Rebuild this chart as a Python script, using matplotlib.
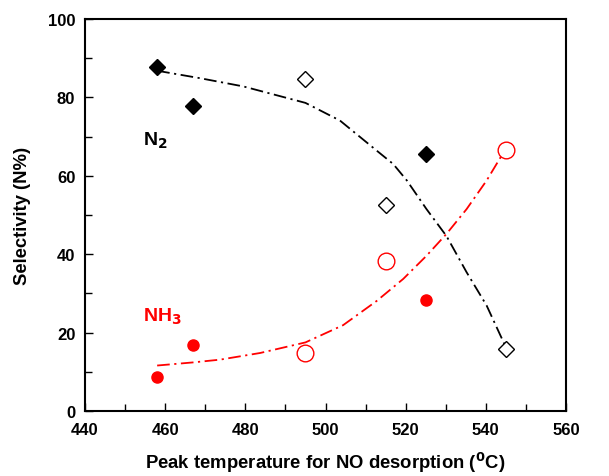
import matplotlib
matplotlib.use("Agg")
import matplotlib.pyplot as plt
from matplotlib.ticker import MultipleLocator

plt.rcParams['font.family'] = ['Liberation Sans', 'DejaVu Sans']
plt.rcParams['font.weight'] = 'bold'

# N2 selectivity
n2_filled_x = [458, 467, 525]
n2_filled_y = [87.7, 77.9, 65.6]
n2_open_x = [495, 515, 545]
n2_open_y = [84.6, 52.6, 15.8]
# NH3 selectivity
nh3_filled_x = [458, 467, 525]
nh3_filled_y = [8.6, 16.8, 28.2]
nh3_open_x = [495, 515, 545]
nh3_open_y = [14.8, 38.3, 66.6]
# trend curves
n2_curve_x = [458, 468.7, 479.5, 495, 503.6, 512.8, 516.9, 520.3, 525.2, 530.2, 535.2, 540.2, 544.8]
n2_curve_y = [86.8, 84.9, 82.8, 78.6, 74.1, 66.4, 63.0, 58.8, 51.5, 44.6, 35.4, 26.9, 16.7]
nh3_curve_x = [458, 467, 473.7, 483.7, 495, 504.4, 512.8, 519.4, 525.2, 530.2, 535.2, 540.2, 544.2]
nh3_curve_y = [11.6, 12.4, 13.1, 14.8, 17.5, 21.9, 28.1, 33.7, 39.6, 45.2, 51.5, 58.8, 65.6]

fig = plt.figure(figsize=(6.09, 4.77), dpi=100)
ax = fig.add_axes([85/609, 65/477, 481/609, 392/477])

dash = (0, (7, 2.5, 1.2, 2.5))
ax.plot(n2_curve_x, n2_curve_y, color='black', lw=1.3, linestyle=dash)
ax.plot(nh3_curve_x, nh3_curve_y, color='red', lw=1.3, linestyle=dash)

ax.plot(n2_filled_x, n2_filled_y, 'D', color='black', ms=8, ls='none')
ax.plot(n2_open_x, n2_open_y, 'D', mfc='white', mec='black', mew=1.0, ms=8, ls='none')
ax.plot(nh3_filled_x, nh3_filled_y, 'o', color='red', ms=8, ls='none')
ax.plot(nh3_open_x, nh3_open_y, 'o', mfc='none', mec='red', mew=1.0, ms=12, ls='none')

ax.text(454.5, 68, r'N$_\mathbf{2}$', fontsize=14, fontweight='bold', color='black')
ax.text(454.5, 23, r'NH$_\mathbf{3}$', fontsize=14, fontweight='bold', color='red')

ax.set_xlim(440, 560)
ax.set_ylim(0, 100)
ax.xaxis.set_major_locator(MultipleLocator(20))
ax.xaxis.set_minor_locator(MultipleLocator(10))
ax.yaxis.set_major_locator(MultipleLocator(20))
ax.yaxis.set_minor_locator(MultipleLocator(10))
ax.tick_params(which='both', direction='in', labelsize=12, width=1)
ax.tick_params(which='major', length=6)
ax.tick_params(which='minor', length=5)
ax.tick_params(axis='x', pad=8)
ax.tick_params(axis='y', pad=7)
for lbl in ax.get_xticklabels() + ax.get_yticklabels():
    lbl.set_fontweight('bold')
for s in ax.spines.values():
    s.set_linewidth(1.5)

ax.set_xlabel(r'Peak temperature for NO desorption ($^\mathbf{0}$C)', fontsize=13.3, fontweight='bold', labelpad=9)
ax.set_ylabel('Selectivity (N%)', fontsize=13.3, fontweight='bold', labelpad=12)

fig.savefig('out.png', dpi=100)
